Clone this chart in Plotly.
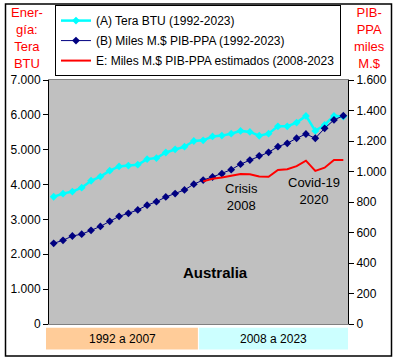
import plotly.graph_objects as go

years = [str(y) for y in range(1992, 2024)]
tera_btu = [3650, 3740, 3800, 3910, 4110, 4230, 4400, 4520, 4545, 4570, 4730, 4760,
            4920, 5010, 5086, 5250, 5270, 5380, 5405, 5460, 5540, 5510, 5400, 5460,
            5670, 5670, 5780, 5970, 5540, 5710, 5970, 5950]
pib_ppa = [529, 549, 577, 589, 614, 640, 673, 706, 726, 748, 779, 802,
           833, 855, 879, 917, 944, 964, 986, 1012, 1048, 1075, 1103, 1126,
           1163, 1185, 1218, 1246, 1218, 1283, 1338, 1366]
years_est = [str(y) for y in range(2008, 2024)]
pib_est = [935, 952, 960, 970, 983, 982, 968, 966, 1010, 1015, 1035, 1071,
           1004, 1025, 1075, 1075]

names = ["(A) Tera BTU (1992-2023)",
         "(B) Miles M.$ PIB-PPA (1992-2023)",
         "E: Miles M.$ PIB-PPA estimados (2008-2023"]
left_ticks = list(range(0, 7001, 1000))
right_ticks = list(range(0, 1601, 200))

FONT = "Arial, Liberation Sans, sans-serif"

fig = go.Figure()
fig.add_trace(go.Scatter(x=years, y=tera_btu, name=names[0], mode="lines+markers",
                         legendgroup="a",
                         line=dict(color="#00FFFF", width=2.5),
                         marker=dict(symbol="diamond", size=6, color="#00FFFF")))
fig.add_trace(go.Scatter(x=years, y=pib_ppa, name=names[1], mode="lines+markers",
                         yaxis="y2", legendgroup="b",
                         line=dict(color="#000080", width=1),
                         marker=dict(symbol="diamond", size=6, color="#000080")))
fig.add_trace(go.Scatter(x=years_est, y=pib_est, name=names[2], mode="lines",
                         yaxis="y2", legendgroup="c",
                         line=dict(color="#FF0000", width=2)))

fig.update_layout(
    width=397, height=361,
    margin=dict(l=49, r=49, t=80, b=37, autoexpand=False),
    paper_bgcolor="white", plot_bgcolor="#C0C0C0",
    separators=",.",
    font=dict(family=FONT, size=12, color="black"),
    showlegend=True,
    legend=dict(x=0.02, y=1.307, xanchor="left", yanchor="top",
                bgcolor="white", bordercolor="black", borderwidth=1,
                font=dict(size=12, family=FONT), tracegroupgap=1,
                itemwidth=30),
    xaxis=dict(type="category", range=[-0.5, 31.5], showticklabels=False,
               ticks="", showgrid=False, zeroline=False,
               showline=True, linecolor="#808080", linewidth=1, mirror=True),
    yaxis=dict(range=[0, 7000], tickvals=left_ticks, tickformat=",d",
               ticks="outside", ticklen=5, tickcolor="black",
               showgrid=False, zeroline=False,
               showline=True, linecolor="black", linewidth=1,
               tickfont=dict(size=12, family=FONT)),
    yaxis2=dict(range=[0, 1600], tickvals=right_ticks, tickformat=",d",
                overlaying="y", side="right",
                ticks="outside", ticklen=5, tickcolor="black",
                showgrid=False, zeroline=False,
                showline=True, linecolor="black", linewidth=1,
                tickfont=dict(size=12, family=FONT)),
)

shapes = [
    dict(type="rect", xref="paper", yref="paper", x0=-0.01, x1=0.498,
         y0=-0.104, y1=-0.015, fillcolor="#FFCC99", line=dict(width=0), layer="below"),
    dict(type="rect", xref="paper", yref="paper", x0=0.502, x1=1.0,
         y0=-0.104, y1=-0.015, fillcolor="#CCFFFF", line=dict(width=0), layer="below"),
    dict(type="rect", xref="paper", yref="paper",
         x0=(5.5 - 49) / 299, x1=(391.5 - 49) / 299,
         y0=(324 - 356) / 244, y1=(324 - 4) / 244,
         line=dict(color="black", width=1.5), fillcolor="rgba(0,0,0,0)"),
]
fig.update_layout(shapes=shapes)

def px(xp):
    return (xp - 49) / 299

def py(yp):
    return (324 - yp) / 244

anns = [
    dict(text="1992 a 2007", x=px(122), y=py(338.5), size=12, color="black"),
    dict(text="2008 a 2023", x=px(273), y=py(338.5), size=12, color="black"),
    dict(text="Crisis<br>2008", x=px(241), y=py(197), size=13, color="black"),
    dict(text="Covid-19<br>2020", x=px(314), y=py(191), size=13, color="black"),
    dict(text="<b>Australia</b>", x=px(215), y=py(272), size=15, color="black"),
    dict(text="Ener-<br>gía:<br>Tera<br>BTU", x=px(27), y=py(38), size=13, color="red"),
    dict(text="PIB-<br>PPA<br>miles<br>M.$", x=px(369), y=py(38), size=13, color="red"),
]
for a in anns:
    fig.add_annotation(text=a["text"], x=a["x"], y=a["y"], xref="paper", yref="paper",
                       xanchor="center", yanchor="middle", showarrow=False,
                       font=dict(size=a["size"], color=a["color"], family=FONT))

fig.write_html("out.html", config={"displayModeBar": False},
               post_script="document.body.style.margin='0';")
